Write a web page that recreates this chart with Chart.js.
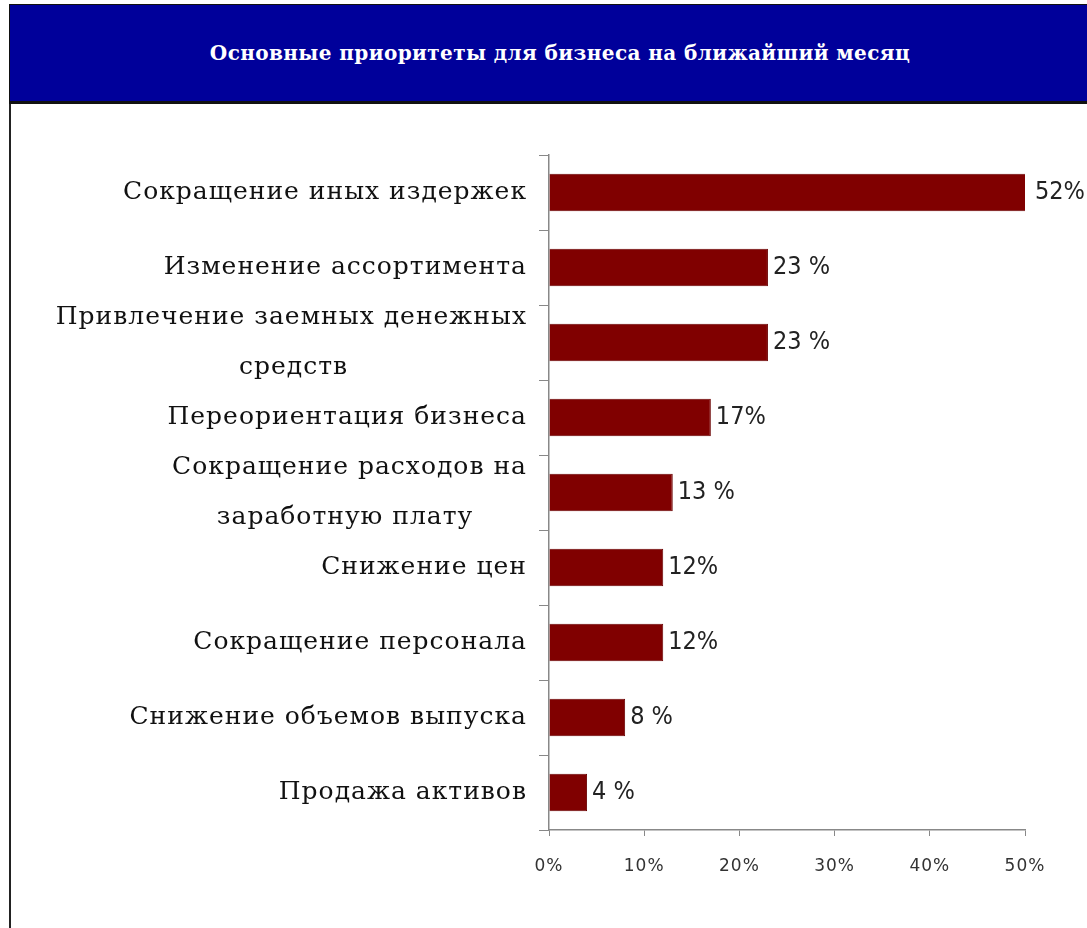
<!DOCTYPE html>
<html>
<head>
<meta charset="utf-8">
<script src="https://cdn.jsdelivr.net/npm/chart.js@4/dist/chart.umd.min.js"></script>
<style>
  body { margin: 0; background: #fff; }
  #frame { position: absolute; left: 9px; top: 4px; width: 1090px; height: 940px; border-left: 2px solid #222; }
  #banner { position: absolute; left: 9px; top: 4px; width: 1090px; height: 96px; background: #00009a;
            border: 1px solid #111; border-bottom: 3px solid #111; }
  #banner span { position: absolute; left: 0; width: 1100px; top: 36px; text-align: center; color: #fff;
                 font: bold 20px "DejaVu Serif", serif; letter-spacing: 0.4px; }
  #wrap { position: absolute; left: 0; top: 0; width: 1087px; height: 928px; }
</style>
</head>
<body>
<div id="frame"></div>
<div id="banner"><span>Основные приоритеты для бизнеса на ближайший месяц</span></div>
<div id="wrap"><canvas id="chart"></canvas></div>
<script>
// категории и значения (%)
var categories = [
  "Сокращение иных издержек",
  "Изменение ассортимента",
  ["Привлечение заемных денежных", "средств                    "],
  "Переориентация бизнеса",
  ["Сокращение расходов на", "заработную плату      "],
  "Снижение цен",
  "Сокращение персонала",
  "Снижение объемов выпуска",
  "Продажа активов"
];
var values = [52, 23, 23, 17, 13, 12, 12, 8, 4];
var valueLabels = ["52%", "23 %", "23 %", "17%", "13 %", "12%", "12%", "8 %", "4 %"];
var xTicks = [0, 10, 20, 30, 40, 50];

// разреженный шрифт для подписей осей (состояние контекста сбрасывается при resize)
var spacing = {
  id: 'spacing',
  beforeLayout: function(chart) { chart.ctx.letterSpacing = '1px'; },
  beforeDraw: function(chart) { chart.ctx.letterSpacing = '1px'; }
};

// подписи значений справа от столбцов (столбец 52% обрезан на 50%, как в Excel)
var barLabels = {
  id: 'barLabels',
  afterDatasetsDraw: function(chart) {
    var ctx = chart.ctx;
    var meta = chart.getDatasetMeta(0);
    var right = chart.chartArea.right;
    ctx.save();
    ctx.letterSpacing = '0px';
    ctx.font = '25px "DejaVu Sans Condensed", "Liberation Sans Narrow", sans-serif';
    ctx.fillStyle = '#222';
    ctx.textAlign = 'left';
    ctx.textBaseline = 'middle';
    meta.data.forEach(function(bar, i) {
      var x = bar.x > right ? right + 10 : bar.x + 5;
      ctx.fillText(valueLabels[i], x, bar.y);
    });
    ctx.restore();
  }
};

var ctx = document.getElementById('chart');
new Chart(ctx, {
  type: 'bar',
  data: {
    labels: categories,
    datasets: [{
      data: values,
      backgroundColor: '#800000',
      borderColor: '#6a0000',
      borderWidth: 1,
      barPercentage: 0.5,
      categoryPercentage: 1.0
    }]
  },
  options: {
    indexAxis: 'y',
    responsive: true,
    maintainAspectRatio: false,
    animation: false,
    layout: { padding: { top: 155, right: 62, left: 0, bottom: 0 } },
    plugins: { legend: { display: false }, tooltip: { enabled: false }, title: { display: false } },
    scales: {
      x: {
        min: 0, max: 50,
        afterBuildTicks: function(scale) { scale.ticks = xTicks.map(function(v) { return { value: v }; }); },
        afterFit: function(scale) { scale.height = 98; },
        border: { color: '#888', width: 1.5 },
        grid: { drawOnChartArea: false, tickLength: 6, color: '#888' },
        ticks: {
          padding: 20,
          color: '#333',
          font: { family: '"DejaVu Sans", sans-serif', size: 17 },
          callback: function(v) { return v + '%'; }
        }
      },
      y: {
        afterFit: function(scale) { scale.width = 549; },
        border: { color: '#888', width: 1.5 },
        grid: { drawOnChartArea: false, tickLength: 10, color: '#888', offset: true },
        ticks: {
          autoSkip: false,
          padding: 12,
          color: '#111',
          font: { family: '"DejaVu Serif", serif', size: 25, lineHeight: 2.0 }
        }
      }
    }
  },
  plugins: [spacing, barLabels]
});
</script>
</body>
</html>
